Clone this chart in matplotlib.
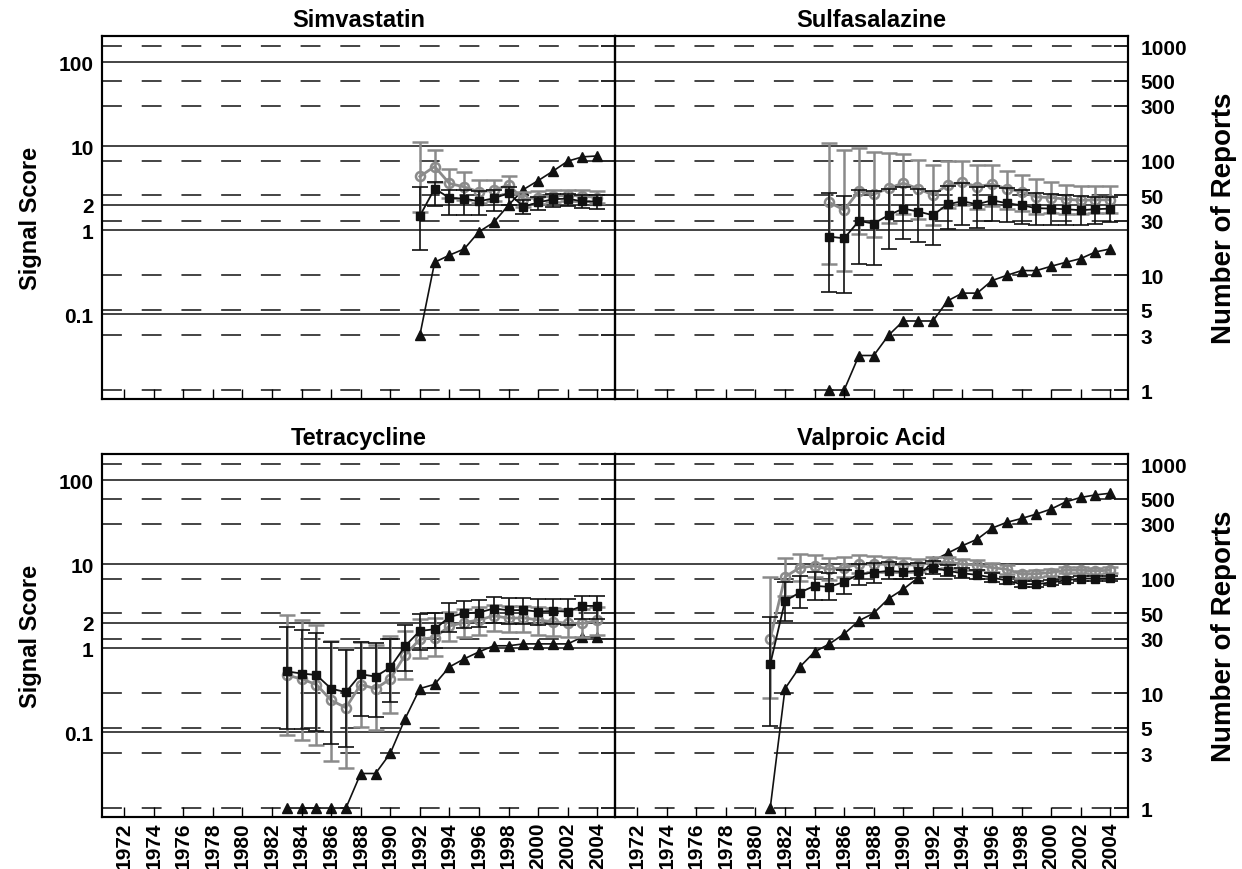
import numpy as np
import matplotlib.pyplot as plt

plt.rcParams['font.family'] = ['Liberation Sans', 'DejaVu Sans']
plt.rcParams['font.weight'] = 'bold'

# Simvastatin, 1992-2004
simva_years = np.arange(1992, 2005)
simva_black = [1.48, 3.13, 2.42, 2.38, 2.21, 2.4, 2.76, 1.91, 2.14, 2.34, 2.38, 2.2, 2.2]
simva_black_lo = [0.58, 1.93, 1.52, 1.52, 1.52, 1.70, 2.0, 1.55, 1.75, 1.9, 1.95, 1.85, 1.8]
simva_black_hi = [3.3, 3.7, 3.0, 3.0, 2.9, 3.0, 3.3, 2.3, 2.5, 2.7, 2.7, 2.6, 2.6]
simva_gray = [4.36, 5.73, 3.6, 3.28, 2.86, 2.99, 3.46, 2.34, 2.45, 2.56, 2.6, 2.56, 2.45]
simva_gray_lo = [1.65, 3.7, 2.45, 2.3, 2.1, 2.2, 2.7, 1.9, 2.05, 2.15, 2.2, 2.2, 2.1]
simva_gray_hi = [11.1, 8.96, 5.4, 4.87, 3.94, 3.94, 4.43, 2.86, 2.9, 3.0, 3.05, 3.0, 2.9]
simva_reports = [3, 13, 15, 17, 24, 29, 41, 56, 67, 81, 99, 108, 110]

# Sulfasalazine, 1985-2004
sulfa_years = np.arange(1985, 2005)
sulfa_black = [0.84, 0.80, 1.29, 1.20, 1.51, 1.81, 1.67, 1.51, 2.04, 2.21,
               2.04, 2.27, 2.1, 1.98, 1.83, 1.81, 1.78, 1.73, 1.78, 1.81]
sulfa_black_lo = [0.186, 0.178, 0.40, 0.39, 0.59, 0.78, 0.73, 0.66, 1.03, 1.15,
                  1.07, 1.29, 1.25, 1.2, 1.15, 1.15, 1.15, 1.15, 1.2, 1.25]
sulfa_black_hi = [2.76, 2.56, 3.0, 2.9, 3.1, 3.3, 3.1, 2.9, 3.4, 3.6,
                  3.3, 3.4, 3.2, 3.0, 2.8, 2.7, 2.6, 2.55, 2.5, 2.5]
sulfa_gray = [2.14, 1.74, 2.94, 2.68, 3.16, 3.63, 3.13, 2.63, 3.46, 3.7,
              3.31, 3.53, 3.13, 2.86, 2.49, 2.45, 2.34, 2.27, 2.3, 2.3]
sulfa_gray_lo = [0.40, 0.33, 0.91, 0.83, 1.23, 1.58, 1.35, 1.15, 1.86, 2.0,
                 1.8, 1.95, 1.8, 1.7, 1.55, 1.6, 1.55, 1.55, 1.6, 1.6]
sulfa_gray_hi = [10.8, 9.0, 9.4, 8.5, 8.26, 8.0, 6.87, 5.95, 6.6, 6.6,
                 5.95, 5.95, 5.08, 4.5, 4.05, 3.8, 3.5, 3.37, 3.37, 3.37]
sulfa_reports = [1, 1, 2, 2, 3, 4, 4, 4, 6, 7, 7, 9, 10, 11, 11, 12, 13, 14, 16, 17]

# Tetracycline, 1983-2004
tetra_years = np.arange(1983, 2005)
tetra_black = [0.53, 0.50, 0.48, 0.33, 0.30, 0.49, 0.46, 0.59, 1.06, 1.61, 1.68,
               2.36, 2.61, 2.66, 2.97, 2.83, 2.85, 2.73, 2.78, 2.73, 3.19, 3.19]
tetra_black_lo = [0.11, 0.11, 0.104, 0.072, 0.066, 0.156, 0.15, 0.23, 0.53, 0.95, 1.02,
                  1.54, 1.75, 1.8, 2.0, 1.95, 1.95, 1.9, 1.95, 1.9, 2.2, 2.2]
tetra_black_hi = [1.79, 1.65, 1.51, 1.19, 0.95, 1.19, 1.15, 1.28, 1.88, 2.59, 2.66,
                  3.43, 3.66, 3.8, 4.09, 3.95, 3.95, 3.85, 3.9, 3.85, 4.2, 4.2]
tetra_gray = [0.48, 0.43, 0.37, 0.24, 0.196, 0.37, 0.33, 0.43, 0.83, 1.28, 1.34,
              1.84, 2.02, 2.17, 2.43, 2.28, 2.3, 2.17, 2.06, 1.98, 1.97, 2.15]
tetra_gray_lo = [0.092, 0.081, 0.07, 0.045, 0.038, 0.114, 0.106, 0.168, 0.43, 0.76, 0.81,
                 1.22, 1.35, 1.45, 1.6, 1.55, 1.55, 1.45, 1.4, 1.35, 1.35, 1.45]
tetra_gray_hi = [2.47, 2.15, 1.88, 1.22, 1.02, 1.19, 1.1, 1.40, 1.6, 2.21, 2.3,
                 2.7, 2.9, 3.1, 3.3, 3.2, 3.2, 3.1, 3.0, 2.9, 2.9, 3.1]
tetra_reports = [1, 1, 1, 1, 1, 2, 2, 3, 6, 11, 12, 17, 20, 23, 26, 26, 27, 27, 27, 27, 31, 31]

# Valproic Acid, 1981-2004
valpro_years = np.arange(1981, 2005)
valpro_black = [0.645, 3.66, 4.6, 5.53, 5.37, 6.16, 7.6, 7.96, 8.33, 8.1, 8.33, 9.1,
                8.33, 7.8, 7.47, 6.94, 6.4, 5.78, 5.8, 6.06, 6.45, 6.75, 6.75, 6.8]
valpro_black_lo = [0.12, 2.11, 3.05, 3.73, 3.73, 4.48, 5.6, 6.0, 6.6, 6.6, 6.9, 7.7,
                   7.2, 6.8, 6.6, 6.2, 5.8, 5.3, 5.35, 5.6, 6.0, 6.3, 6.3, 6.35]
valpro_black_hi = [2.34, 6.06, 7.26, 8.0, 7.8, 8.5, 10.0, 10.2, 10.5, 10.0, 10.2, 10.8,
                   9.7, 9.0, 8.5, 7.8, 7.1, 6.3, 6.3, 6.55, 6.95, 7.2, 7.2, 7.25]
valpro_gray = [1.3, 7.07, 9.1, 9.53, 8.7, 9.1, 10, 10, 10, 9.8, 9.8, 10.5,
               10.6, 10, 9.8, 9.1, 8.7, 7.6, 7.7, 7.96, 8.5, 8.5, 8.3, 8.5]
valpro_gray_lo = [0.254, 4.2, 6.3, 7.0, 6.5, 7.0, 7.8, 8.0, 8.1, 8.0, 8.1, 8.8,
                  9.0, 8.6, 8.5, 8.0, 7.7, 6.9, 7.0, 7.3, 7.8, 7.9, 7.7, 7.9]
valpro_gray_hi = [7.07, 11.8, 13.4, 12.9, 11.9, 12.1, 12.8, 12.5, 12.3, 11.8, 11.6, 12.2,
                  12.2, 11.5, 11.2, 10.4, 9.8, 8.4, 8.5, 8.7, 9.2, 9.2, 9.0, 9.2]
valpro_reports = [1, 11, 17, 23, 27, 33, 43, 50, 67, 81, 102, 143, 167, 194, 221,
                  276, 310, 335, 366, 405, 468, 511, 538, 556]

score_ticks = [0.1, 1, 2, 10, 100]
score_labels = ['0.1', '1', '2', '10', '100']
report_ticks = [1, 3, 5, 10, 30, 50, 100, 300, 500, 1000]
year_ticks = np.arange(1972, 2005, 2)

GRAY = '#8a8a8a'
BLACK = '#111111'


def yerr(vals, lo, hi):
    v = np.array(vals)
    return [v - np.array(lo), np.array(hi) - v]


def panel(rect, title, years, black, blo, bhi, gray, glo, ghi, reports, left, bottom):
    ax = fig.add_axes(rect)
    ax2 = ax.twinx()
    ax.set_zorder(ax2.get_zorder() + 1)
    ax.patch.set_visible(False)

    # number of reports (right axis), dashed grid
    ax2.set_yscale('log')
    ax2.set_ylim(0.835, 1223)
    ax2.set_yticks(report_ticks)
    ax2.set_yticks([], minor=True)
    if left:
        ax2.set_yticklabels([])
    else:
        ax2.set_yticklabels([str(t) for t in report_ticks], fontsize=15, fontweight='bold')
    ax2.tick_params(axis='y', direction='in', length=10, width=1.2, pad=9)
    for t in report_ticks:
        ax2.axhline(t, color=BLACK, lw=1.1, dashes=(13, 13), zorder=0)
    ax2.plot(years, reports, color=BLACK, lw=1.2, marker='^', ms=7.5, zorder=3)

    # signal scores (left axis), solid grid
    ax.set_yscale('log')
    ax.set_ylim(0.0098, 205)
    ax.set_yticks(score_ticks)
    ax.set_yticks([], minor=True)
    if left:
        ax.set_yticklabels(score_labels, fontsize=15, fontweight='bold')
    else:
        ax.set_yticklabels([])
    ax.tick_params(axis='y', direction='in', length=0, pad=6)
    for t in score_ticks:
        ax.axhline(t, color=BLACK, lw=1.1, zorder=0)

    ax.errorbar(years, gray, yerr=yerr(gray, glo, ghi), color=GRAY, lw=2, elinewidth=1.8,
                capsize=6, capthick=1.8, marker='o', ms=6.5, mfc='none', mec=GRAY, mew=1.8, zorder=3)
    ax.errorbar(years, black, yerr=yerr(black, blo, bhi), color=BLACK, lw=1.3, elinewidth=1.2,
                capsize=6, capthick=1.2, marker='s', ms=6, zorder=4)

    ax.set_xlim(1970.5, 2005.2)
    ax.set_xticks(year_ticks)
    ax.set_xticks([], minor=True)
    ax.tick_params(axis='x', direction='in', length=7, width=1, top=False)
    if bottom:
        ax.set_xticklabels([str(y) for y in year_ticks], rotation=90, fontsize=15, fontweight='bold')
    else:
        ax.set_xticklabels([])
    for a in (ax, ax2):
        for s in a.spines.values():
            s.set_linewidth(1.5)
    ax.set_title(title, fontsize=17, fontweight='bold', pad=7)
    return ax


fig = plt.figure(figsize=(12.42, 8.7), dpi=100)
L1 = 102 / 1242
L2 = 615 / 1242
W = 513 / 1242
H = 363 / 870
B1 = 470 / 870
B2 = 52 / 870

panel([L1, B1, W, H], 'Simvastatin', simva_years, simva_black, simva_black_lo, simva_black_hi,
      simva_gray, simva_gray_lo, simva_gray_hi, simva_reports, True, False)
panel([L2, B1, W, H], 'Sulfasalazine', sulfa_years, sulfa_black, sulfa_black_lo, sulfa_black_hi,
      sulfa_gray, sulfa_gray_lo, sulfa_gray_hi, sulfa_reports, False, False)
panel([L1, B2, W, H], 'Tetracycline', tetra_years, tetra_black, tetra_black_lo, tetra_black_hi,
      tetra_gray, tetra_gray_lo, tetra_gray_hi, tetra_reports, True, True)
panel([L2, B2, W, H], 'Valproic Acid', valpro_years, valpro_black, valpro_black_lo, valpro_black_hi,
      valpro_gray, valpro_gray_lo, valpro_gray_hi, valpro_reports, False, True)

for yc in (218, 636):
    fig.text(30 / 1242, 1 - yc / 870, 'Signal Score', rotation=90, ha='center', va='center',
             fontsize=17, fontweight='bold')
    fig.text(1224 / 1242, 1 - yc / 870, 'Number of Reports', rotation=90, ha='center', va='center',
             fontsize=20, fontweight='bold')

fig.savefig('out.png', dpi=100)
